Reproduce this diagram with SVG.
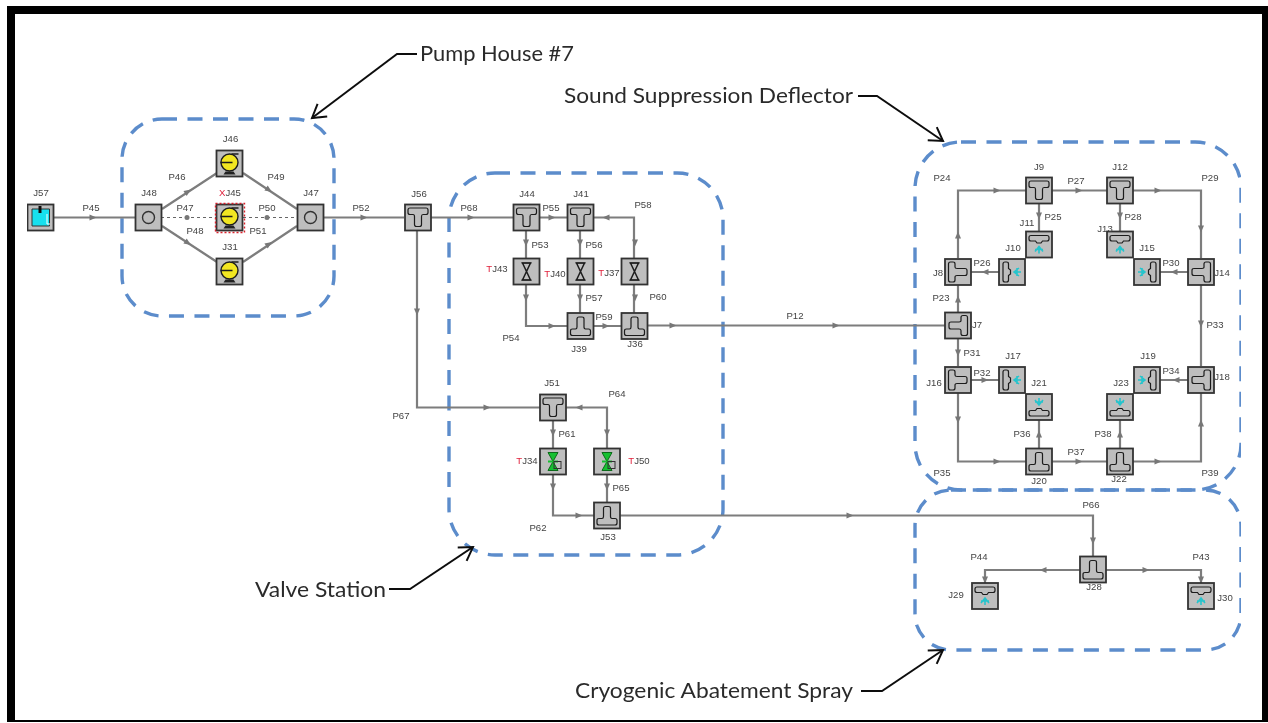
<svg xmlns="http://www.w3.org/2000/svg" width="1268" height="723" viewBox="0 0 1268 723">
<style>
.pipe{fill:none;stroke:#7d7d7d;stroke-width:2.2}
.dash{fill:none;stroke:#666;stroke-width:1;stroke-dasharray:3 3}
.ah{fill:#777}
.box{fill:#bebebe;stroke:#333;stroke-width:1.8}
.gl{fill:none;stroke:#1c1c1c;stroke-width:1.2}
.zone{fill:none;stroke:#5b8ccb;stroke-width:3.4;stroke-dasharray:15 10.5}
.lb{font:9.6px "Liberation Sans",Arial,sans-serif;fill:#444;text-anchor:middle}
.red{fill:#e0223c}
.call{font:22px Lato,"Liberation Sans",sans-serif;fill:#2b2b2b}
.lead{fill:none;stroke:#111;stroke-width:2}
</style>
<defs>
<filter id="soft" x="0" y="0" width="100%" height="100%"><feGaussianBlur stdDeviation="0.35"/></filter>
<marker id="open" markerUnits="userSpaceOnUse" markerWidth="22" markerHeight="22" refX="16" refY="10" orient="auto"><path d="M3,2 L16,10 L3,18" fill="none" stroke="#111" stroke-width="2"/></marker>
<path id="a" class="ah" d="M-3.500,-3 L3.500,0 L-3.500,3Z"/>
<rect id="b" class="box" x="-13" y="-13" width="26" height="26"/>
<path id="tee" class="gl" d="M-10,-7.500 Q-10,-9.500 -8,-9.500 H8 Q10,-9.500 10,-7.500 V-5 Q10,-3 8,-3 H5 Q3.500,-3 3.500,-1 V7 Q3.500,9 1.500,9 H-1.500 Q-3.500,9 -3.500,7 V-1 Q-3.500,-3 -5,-3 H-8 Q-10,-3 -10,-5 Z"/>
<g id="spray"><path class="gl" d="M-10,-7 Q-10,-9 -8,-9 H8 Q10,-9 10,-7 V-5.500 Q10,-3.500 8,-3.500 H3.500 L2,-1.500 H-2 L-3.500,-3.500 H-8 Q-10,-3.500 -10,-5.500 Z"/><path d="M-4,7 L0,2 L4,7 M0,2 V9 M-4,5 H4" fill="none" stroke="#27c4cc" stroke-width="1.600"/></g>
<g id="valve"><path class="gl" d="M-5,-8.500 H5 M-5,8.500 H5"/><path d="M-4,-8.500 L4,8.500 H-4 L4,-8.500Z" fill="none" stroke="#1c1c1c" stroke-width="1.500"/></g>
<g id="gvalve"><path d="M-5,-9 H5 L-5,9 H5Z" fill="#16c030" stroke="#0c6a1a" stroke-width="1"/><path d="M-5,0 H5" stroke="#16c030" stroke-width="2"/><rect x="1" y="0" width="7" height="7" fill="none" stroke="#333" stroke-width="1"/></g>
<g id="pump"><path d="M-6,11 H6 L4,8 H-4Z" fill="#222"/><circle cx="0" cy="-1" r="8.500" fill="#f2e620" stroke="#1c1c1c" stroke-width="1.400"/><path d="M-9,-1 H3 M2,-9.500 H9" stroke="#1c1c1c" stroke-width="1.300"/></g>
<g id="orif"><circle r="6" fill="none" stroke="#333" stroke-width="1.400"/></g>
</defs>
<rect width="1268" height="723" fill="#fff"/>
<path d="M7,6 H1268 V14 H15 V720 H1262 V14 H1268 V722 H7Z" fill="#000"/>

<g filter="url(#soft)">
<g id="zones">
<rect class="zone" x="122" y="119" width="212" height="197" rx="40"/>
<rect class="zone" x="449" y="173" width="274" height="382" rx="46"/>
<rect class="zone" x="915" y="142" width="326" height="348" rx="46"/>
<rect class="zone" x="915" y="490" width="326" height="160" rx="36"/>
</g>

<g id="connectors">
<path class="pipe" d="M53,217.500H135M162,209L217,173M243,173L297,209M162,226L217,262M243,262L297,226M323,217.500H404M430,217.500H513M539,217.500H567M593,217.500H634V259M526,230V259M526,285V326H567M580,230V259M580,285V313M593,326H621M634,285V313M647,325.500H945M417,230V407.500H540M553,420V448M553,474V515.500H594M566,407.500H607V448M607,474V502M620,515.500H1093V556M1080,570H985V583M1106,570H1201V583M958,258V190.500H1026M1052,190.500H1107M1133,190.500H1201V258M1039,203V231M1120,203V231M971,272H999M1160,272H1188M958,312V284M1201,284V366M958,338V366M971,380H999M1160,380H1188M958,392V461.500H1026M1039,448V420M1120,448V420M1052,461.500H1107M1133,461.500H1201V392"/>
<path class="dash" d="M161,217.500H216M243,217.500H297"/>
<use href="#a" transform="translate(93,217.500)"/>
<use href="#a" transform="translate(188,191.500) rotate(-33)"/>
<use href="#a" transform="translate(269,190) rotate(33)"/>
<use href="#a" transform="translate(188,243) rotate(33)"/>
<use href="#a" transform="translate(269,244) rotate(-33)"/>
<circle class="ah" cx="187" cy="217.500" r="2.500"/>
<circle class="ah" cx="267" cy="217.500" r="2.500"/>
<use href="#a" transform="translate(364,217.500)"/>
<use href="#a" transform="translate(471,217.500)"/>
<use href="#a" transform="translate(552,217.500)"/>
<use href="#a" transform="translate(606,217.500) rotate(180)"/>
<use href="#a" transform="translate(635,243) rotate(90)"/>
<use href="#a" transform="translate(526,243) rotate(90)"/>
<use href="#a" transform="translate(526,298) rotate(90)"/>
<use href="#a" transform="translate(552,326)"/>
<use href="#a" transform="translate(580,243) rotate(90)"/>
<use href="#a" transform="translate(580,298) rotate(90)"/>
<use href="#a" transform="translate(606,326)"/>
<use href="#a" transform="translate(635,298) rotate(90)"/>
<use href="#a" transform="translate(673,325.500)"/>
<use href="#a" transform="translate(836,325.500)"/>
<use href="#a" transform="translate(417,312) rotate(90)"/>
<use href="#a" transform="translate(487,407.500)"/>
<use href="#a" transform="translate(553,433) rotate(90)"/>
<use href="#a" transform="translate(553,487) rotate(90)"/>
<use href="#a" transform="translate(579,515.500)"/>
<use href="#a" transform="translate(579,407.500) rotate(180)"/>
<use href="#a" transform="translate(607,433) rotate(90)"/>
<use href="#a" transform="translate(607,487) rotate(90)"/>
<use href="#a" transform="translate(850,515.500)"/>
<use href="#a" transform="translate(1093,541) rotate(90)"/>
<use href="#a" transform="translate(1043,570) rotate(180)"/>
<use href="#a" transform="translate(985,580) rotate(90)"/>
<use href="#a" transform="translate(1146,570)"/>
<use href="#a" transform="translate(1201,580) rotate(90)"/>
<use href="#a" transform="translate(958,235) rotate(-90)"/>
<use href="#a" transform="translate(997,190.500)"/>
<use href="#a" transform="translate(1079,190.500)"/>
<use href="#a" transform="translate(1158,190.500)"/>
<use href="#a" transform="translate(1201,229) rotate(90)"/>
<use href="#a" transform="translate(1039,216) rotate(90)"/>
<use href="#a" transform="translate(1120,216) rotate(90)"/>
<use href="#a" transform="translate(985,272) rotate(180)"/>
<use href="#a" transform="translate(1174,272) rotate(180)"/>
<use href="#a" transform="translate(958,299) rotate(-90)"/>
<use href="#a" transform="translate(1201,324) rotate(90)"/>
<use href="#a" transform="translate(958,353) rotate(90)"/>
<use href="#a" transform="translate(985,380)"/>
<use href="#a" transform="translate(1176,380) rotate(180)"/>
<use href="#a" transform="translate(958,420) rotate(90)"/>
<use href="#a" transform="translate(997,461.500)"/>
<use href="#a" transform="translate(1039,434) rotate(-90)"/>
<use href="#a" transform="translate(1120,434) rotate(-90)"/>
<use href="#a" transform="translate(1079,461.500)"/>
<use href="#a" transform="translate(1158,461.500)"/>
<use href="#a" transform="translate(1201,423) rotate(-90)"/>
</g>

<g id="pipe-labels">
<text class="lb" x="91" y="211">P45</text><text class="lb" x="177" y="180">P46</text><text class="lb" x="185" y="211">P47</text><text class="lb" x="195" y="234">P48</text><text class="lb" x="276" y="180">P49</text><text class="lb" x="267" y="211">P50</text><text class="lb" x="258" y="234">P51</text><text class="lb" x="361" y="211">P52</text><text class="lb" x="469" y="211">P68</text><text class="lb" x="551" y="211">P55</text><text class="lb" x="643" y="208">P58</text><text class="lb" x="540" y="248">P53</text><text class="lb" x="594" y="248">P56</text><text class="lb" x="594" y="301">P57</text><text class="lb" x="658" y="300">P60</text><text class="lb" x="604" y="320">P59</text><text class="lb" x="511" y="341">P54</text><text class="lb" x="795" y="319">P12</text><text class="lb" x="401" y="419">P67</text><text class="lb" x="617" y="397">P64</text><text class="lb" x="567" y="437">P61</text><text class="lb" x="621" y="491">P65</text><text class="lb" x="538" y="531">P62</text><text class="lb" x="1091" y="508">P66</text><text class="lb" x="979" y="560">P44</text><text class="lb" x="1201" y="560">P43</text><text class="lb" x="942" y="181">P24</text><text class="lb" x="1076" y="184">P27</text><text class="lb" x="1210" y="181">P29</text><text class="lb" x="1053" y="220">P25</text><text class="lb" x="1133" y="220">P28</text><text class="lb" x="982" y="266">P26</text><text class="lb" x="1171" y="266">P30</text><text class="lb" x="941" y="301">P23</text><text class="lb" x="1215" y="328">P33</text><text class="lb" x="972" y="356">P31</text><text class="lb" x="982" y="376">P32</text><text class="lb" x="1171" y="374">P34</text><text class="lb" x="1022" y="437">P36</text><text class="lb" x="1103" y="437">P38</text><text class="lb" x="1076" y="455">P37</text><text class="lb" x="942" y="476">P35</text><text class="lb" x="1210" y="476">P39</text>
</g>

<g id="J57"><use href="#b" transform="translate(40.500,217.500)"/><path d="M32,209 H49.500 V226 H32Z" fill="#19e0ee" stroke="#333"/><path d="M47,214 V224 H50" fill="none" stroke="#fff" stroke-width="1"/><path d="M40,206 V213" stroke="#111" stroke-width="3"/><text class="lb" x="41" y="196">J57</text></g>
<g id="J48"><use href="#b" transform="translate(148.500,217.500)"/><use href="#orif" transform="translate(148.500,217.500)"/><text class="lb" x="149" y="196">J48</text></g>
<g id="J46"><use href="#b" transform="translate(229.500,163.500)"/><use href="#pump" transform="translate(229.500,163.500)"/><text class="lb" x="230.500" y="142">J46</text></g>
<g id="J45"><use href="#b" transform="translate(229.500,217.500)"/><use href="#pump" transform="translate(229.500,217.500)"/><rect x="215.500" y="203.500" width="29" height="29" fill="none" stroke="#d8202c" stroke-width="1.400" stroke-dasharray="2 2"/><text class="lb" x="230" y="196"><tspan class="red">X</tspan>J45</text></g>
<g id="J31"><use href="#b" transform="translate(229.500,271.500)"/><use href="#pump" transform="translate(229.500,271.500)"/><text class="lb" x="230" y="250">J31</text></g>
<g id="J47"><use href="#b" transform="translate(310.500,217.500)"/><use href="#orif" transform="translate(310.500,217.500)"/><text class="lb" x="311" y="196">J47</text></g>
<g id="J56"><use href="#b" transform="translate(418,217.500)"/><use href="#tee" transform="translate(418,217.500)"/><text class="lb" x="419" y="197">J56</text></g>
<g id="J44"><use href="#b" transform="translate(526.500,217.500)"/><use href="#tee" transform="translate(526.500,217.500)"/><text class="lb" x="527" y="197">J44</text></g>
<g id="J41"><use href="#b" transform="translate(580.500,217.500)"/><use href="#tee" transform="translate(580.500,217.500)"/><text class="lb" x="581" y="197">J41</text></g>
<g id="J43"><use href="#b" transform="translate(526.500,271.500)"/><use href="#valve" transform="translate(526.500,271.500)"/><text class="lb" x="497" y="272"><tspan class="red">T</tspan>J43</text></g>
<g id="J40"><use href="#b" transform="translate(580.500,271.500)"/><use href="#valve" transform="translate(580.500,271.500)"/><text class="lb" x="555" y="277"><tspan class="red">T</tspan>J40</text></g>
<g id="J37"><use href="#b" transform="translate(634.500,271.500)"/><use href="#valve" transform="translate(634.500,271.500)"/><text class="lb" x="609" y="276"><tspan class="red">T</tspan>J37</text></g>
<g id="J39"><use href="#b" transform="translate(580.500,326)"/><use href="#tee" transform="translate(580.500,326) rotate(180)"/><text class="lb" x="579" y="352">J39</text></g>
<g id="J36"><use href="#b" transform="translate(634.500,326)"/><use href="#tee" transform="translate(634.500,326) rotate(180)"/><text class="lb" x="635" y="347">J36</text></g>
<g id="J51"><use href="#b" transform="translate(553,407.500)"/><use href="#tee" transform="translate(553,407.500)"/><text class="lb" x="552" y="386">J51</text></g>
<g id="J34"><use href="#b" transform="translate(553,461.500)"/><use href="#gvalve" transform="translate(553,461.500)"/><text class="lb" x="527" y="464"><tspan class="red">T</tspan>J34</text></g>
<g id="J50"><use href="#b" transform="translate(607,461.500)"/><use href="#gvalve" transform="translate(607,461.500)"/><text class="lb" x="639" y="464"><tspan class="red">T</tspan>J50</text></g>
<g id="J53"><use href="#b" transform="translate(607,515.500)"/><use href="#tee" transform="translate(607,515.500) rotate(180)"/><text class="lb" x="608" y="540">J53</text></g>
<g id="J9"><use href="#b" transform="translate(1039,190.500)"/><use href="#tee" transform="translate(1039,190.500)"/><text class="lb" x="1039" y="170">J9</text></g>
<g id="J12"><use href="#b" transform="translate(1120,190.500)"/><use href="#tee" transform="translate(1120,190.500)"/><text class="lb" x="1120" y="170">J12</text></g>
<g id="J11"><use href="#b" transform="translate(1039,244.500)"/><use href="#spray" transform="translate(1039,244.500)"/><text class="lb" x="1027" y="226">J11</text></g>
<g id="J13"><use href="#b" transform="translate(1120,244.500)"/><use href="#spray" transform="translate(1120,244.500)"/><text class="lb" x="1105" y="232">J13</text></g>
<g id="J10"><use href="#b" transform="translate(1012,272)"/><use href="#spray" transform="translate(1012,272) rotate(-90)"/><text class="lb" x="1013" y="251">J10</text></g>
<g id="J15"><use href="#b" transform="translate(1147,272)"/><use href="#spray" transform="translate(1147,272) rotate(90)"/><text class="lb" x="1147" y="251">J15</text></g>
<g id="J8"><use href="#b" transform="translate(958,272)"/><use href="#tee" transform="translate(958,272) rotate(-90)"/><text class="lb" x="938" y="276">J8</text></g>
<g id="J14"><use href="#b" transform="translate(1201,272)"/><use href="#tee" transform="translate(1201,272) rotate(90)"/><text class="lb" x="1222" y="276">J14</text></g>
<g id="J7"><use href="#b" transform="translate(958,325.500)"/><use href="#tee" transform="translate(958,325.500) rotate(90)"/><text class="lb" x="977" y="328">J7</text></g>
<g id="J16"><use href="#b" transform="translate(958,380)"/><use href="#tee" transform="translate(958,380) rotate(-90)"/><text class="lb" x="934" y="386">J16</text></g>
<g id="J18"><use href="#b" transform="translate(1201,380)"/><use href="#tee" transform="translate(1201,380) rotate(90)"/><text class="lb" x="1222" y="380">J18</text></g>
<g id="J17"><use href="#b" transform="translate(1012,380)"/><use href="#spray" transform="translate(1012,380) rotate(-90)"/><text class="lb" x="1013" y="359">J17</text></g>
<g id="J19"><use href="#b" transform="translate(1147,380)"/><use href="#spray" transform="translate(1147,380) rotate(90)"/><text class="lb" x="1148" y="359">J19</text></g>
<g id="J21"><use href="#b" transform="translate(1039,407)"/><use href="#spray" transform="translate(1039,407) rotate(180)"/><text class="lb" x="1039" y="386">J21</text></g>
<g id="J23"><use href="#b" transform="translate(1120,407)"/><use href="#spray" transform="translate(1120,407) rotate(180)"/><text class="lb" x="1121" y="386">J23</text></g>
<g id="J20"><use href="#b" transform="translate(1039,461.500)"/><use href="#tee" transform="translate(1039,461.500) rotate(180)"/><text class="lb" x="1039" y="484">J20</text></g>
<g id="J22"><use href="#b" transform="translate(1120,461.500)"/><use href="#tee" transform="translate(1120,461.500) rotate(180)"/><text class="lb" x="1119" y="482">J22</text></g>
<g id="J28"><use href="#b" transform="translate(1093,569.500)"/><use href="#tee" transform="translate(1093,569.500) rotate(180)"/><text class="lb" x="1094" y="590">J28</text></g>
<g id="J29"><use href="#b" transform="translate(985,596)"/><use href="#spray" transform="translate(985,596)"/><text class="lb" x="956" y="598">J29</text></g>
<g id="J30"><use href="#b" transform="translate(1201,596)"/><use href="#spray" transform="translate(1201,596)"/><text class="lb" x="1225" y="601">J30</text></g>

<g id="callouts">
<path class="lead" marker-end="url(#open)" d="M417,54 H397 L312,118"/>
<text class="call" x="420" y="61" textLength="154" lengthAdjust="spacingAndGlyphs">Pump House #7</text>
<path class="lead" marker-end="url(#open)" d="M858,96 H877 L943,141"/>
<text class="call" x="564" y="103" textLength="289" lengthAdjust="spacingAndGlyphs">Sound Suppression Deflector</text>
<path class="lead" marker-end="url(#open)" d="M389,589 H410 L473,547"/>
<text class="call" x="255" y="597" textLength="131" lengthAdjust="spacingAndGlyphs">Valve Station</text>
<path class="lead" marker-end="url(#open)" d="M861,691 H882 L943,650"/>
<text class="call" x="575" y="698" textLength="278" lengthAdjust="spacingAndGlyphs">Cryogenic Abatement Spray</text>
</g>
</g>
</svg>
